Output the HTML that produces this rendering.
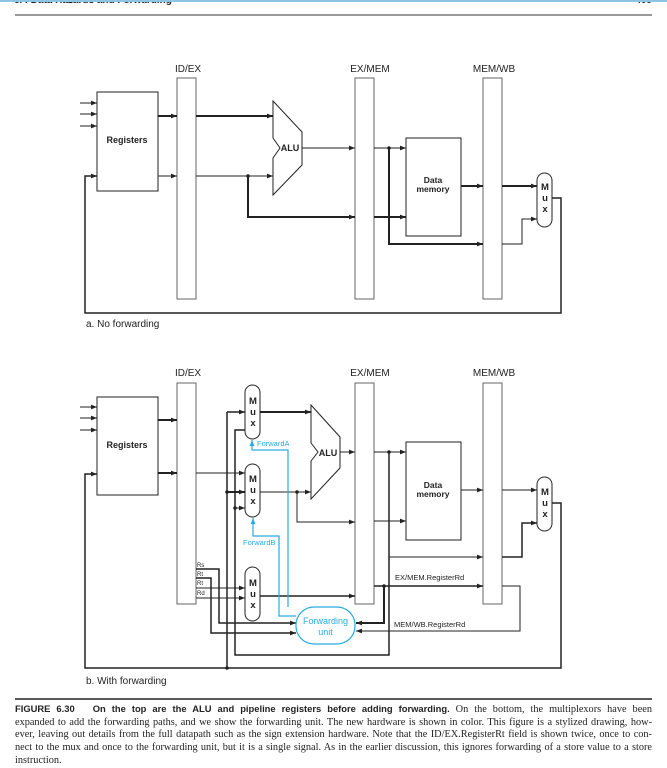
<!DOCTYPE html>
<html><head><meta charset="utf-8"><style>
html,body{margin:0;padding:0;background:#fff;width:667px;height:767px;overflow:hidden}
svg{position:absolute;left:0;top:0}
.cap{position:absolute;left:15px;top:703px;width:637px;font-family:"Liberation Serif",serif;font-size:10.3px;line-height:12.7px;color:#222}
.cap div{text-align:justify;text-align-last:justify;white-space:nowrap;overflow:visible}
.cap div.l{text-align-last:left}
.cap b{font-family:"Liberation Sans",sans-serif;font-size:9.4px}
</style></head><body>
<svg width="667" height="767" viewBox="0 0 667 767" font-family="Liberation Sans, sans-serif">
<defs>
<marker id="a" viewBox="0 0 10 10" refX="10" refY="5" markerWidth="6" markerHeight="6" orient="auto" markerUnits="userSpaceOnUse"><path d="M0,1 L10,5 L0,9z" fill="#222"/></marker>
<marker id="b" viewBox="0 0 10 10" refX="10" refY="5" markerWidth="6" markerHeight="6" orient="auto" markerUnits="userSpaceOnUse"><path d="M0,1 L10,5 L0,9z" fill="#29abe2"/></marker>
</defs>
<text x="14" y="3" font-size="10" font-weight="bold" fill="#222">6.4   Data Hazards and Forwarding</text>
<text x="652" y="3" font-size="10" font-weight="bold" fill="#222" text-anchor="end">409</text>
<rect x="0" y="0" width="667" height="2" fill="#8fc4e6"/>
<line x1="15" y1="15" x2="652" y2="15" stroke="#333" stroke-width="1"/>

<g fill="none" stroke="#222" stroke-width="1">
<rect x="97" y="92" width="61" height="99" fill="#fff"/>
<rect x="177" y="78" width="19" height="221" stroke="#666"/>
<rect x="355" y="78" width="19" height="221" stroke="#666"/>
<rect x="483" y="78" width="19" height="221" stroke="#666"/>
<polygon points="273,101 302,132 302,165 273,195 273,158 280,148 273,138" fill="#fff"/>
<rect x="406" y="138" width="55" height="98" fill="#fff"/>
<rect x="537" y="173" width="15" height="54" rx="7.5" fill="#fff"/>
<line x1="80" y1="103" x2="97" y2="103" marker-end="url(#a)"/>
<line x1="80" y1="114" x2="97" y2="114" marker-end="url(#a)"/>
<line x1="80" y1="126" x2="97" y2="126" marker-end="url(#a)"/>
<line x1="158" y1="116" x2="177" y2="116" stroke-width="2" marker-end="url(#a)"/>
<line x1="158" y1="176" x2="177" y2="176" marker-end="url(#a)"/>
<line x1="196" y1="116" x2="273" y2="116" stroke-width="2" marker-end="url(#a)"/>
<line x1="196" y1="176" x2="273" y2="176" marker-end="url(#a)"/>
<polyline points="248,176 248,217 355,217" stroke-width="2" marker-end="url(#a)"/>
<line x1="302" y1="148" x2="355" y2="148" marker-end="url(#a)"/>
<line x1="374" y1="148" x2="406" y2="148" marker-end="url(#a)"/>
<line x1="374" y1="217" x2="406" y2="217" stroke-width="2" marker-end="url(#a)"/>
<polyline points="389,148 389,244 483,244" stroke-width="2" marker-end="url(#a)"/>
<line x1="461" y1="186" x2="483" y2="186" stroke-width="2" marker-end="url(#a)"/>
<line x1="502" y1="186" x2="537" y2="186" stroke-width="2" marker-end="url(#a)"/>
<polyline points="502,244 522,244 522,219 537,219" marker-end="url(#a)"/>
<polyline points="552,198 561,198 561,313 85,313 85,176 97,176" stroke-width="1.5" marker-end="url(#a)"/>

<rect x="97" y="397" width="61" height="98" fill="#fff"/>
<rect x="177" y="383" width="19" height="221" stroke="#666"/>
<rect x="355" y="383" width="19" height="221" stroke="#666"/>
<rect x="483" y="383" width="19" height="221" stroke="#666"/>
<polygon points="311,405 340,437 340,468 311,499 311,461 318,452 311,443" fill="#fff"/>
<rect x="406" y="442" width="55" height="98" fill="#fff"/>
<rect x="245" y="385" width="15" height="54" rx="7.5" fill="#fff"/>
<rect x="245" y="464" width="15" height="53" rx="7.5" fill="#fff"/>
<rect x="245" y="567" width="15" height="54" rx="7.5" fill="#fff"/>
<rect x="537" y="477" width="15" height="54" rx="7.5" fill="#fff"/>
<line x1="80" y1="407" x2="97" y2="407" marker-end="url(#a)"/>
<line x1="80" y1="418" x2="97" y2="418" marker-end="url(#a)"/>
<line x1="80" y1="430" x2="97" y2="430" marker-end="url(#a)"/>
<line x1="158" y1="420" x2="177" y2="420" stroke-width="2" marker-end="url(#a)"/>
<line x1="158" y1="473" x2="177" y2="473" stroke-width="2" marker-end="url(#a)"/>
<line x1="196" y1="473" x2="245" y2="473" marker-end="url(#a)"/>
<line x1="227" y1="412" x2="227" y2="668" stroke-width="1.5"/>
<line x1="227" y1="412" x2="245" y2="412" stroke-width="1.5" marker-end="url(#a)"/>
<line x1="227" y1="492" x2="245" y2="492" stroke-width="2" marker-end="url(#a)"/>
<polyline points="245,430 235,430 235,655 389,655 389,452" stroke-width="1.5"/>
<line x1="235" y1="508" x2="245" y2="508" marker-end="url(#a)"/>
<line x1="260" y1="412" x2="311" y2="412" stroke-width="2" marker-end="url(#a)"/>
<line x1="260" y1="492" x2="311" y2="492" marker-end="url(#a)"/>
<polyline points="297,492 297,522 355,522" marker-end="url(#a)"/>
<line x1="340" y1="452" x2="355" y2="452" marker-end="url(#a)"/>
<line x1="374" y1="452" x2="406" y2="452" marker-end="url(#a)"/>
<line x1="374" y1="521" x2="406" y2="521" marker-end="url(#a)"/>
<line x1="389" y1="557" x2="483" y2="557" marker-end="url(#a)"/>
<line x1="461" y1="490" x2="483" y2="490" marker-end="url(#a)"/>
<line x1="502" y1="490" x2="537" y2="490" marker-end="url(#a)"/>
<polyline points="502,557 522,557 522,523 537,523" stroke-width="1.5" marker-end="url(#a)"/>
<polyline points="552,503 561,503 561,668 85,668 85,474 97,474" stroke-width="1.5" marker-end="url(#a)"/>
<line x1="260" y1="596" x2="355" y2="596" stroke-width="1.5" marker-end="url(#a)"/>
<line x1="374" y1="586" x2="483" y2="586" stroke-width="1.5" marker-end="url(#a)"/>
<polyline points="384,586 384,623 356,623" stroke-width="2" marker-end="url(#a)"/>
<polyline points="502,586 520,586 520,631 356,631" marker-end="url(#a)"/>
<polyline points="196,569 219,569 219,623 296,623" stroke-width="1.5" marker-end="url(#a)"/>
<polyline points="196,578 211,578 211,633 296,633" stroke-width="1.5" marker-end="url(#a)"/>
<line x1="196" y1="588" x2="245" y2="588" marker-end="url(#a)"/>
<line x1="196" y1="598" x2="245" y2="598" marker-end="url(#a)"/>
</g>
<g fill="#222">
<circle cx="248" cy="176" r="1.8"/><circle cx="389" cy="148" r="1.8"/>
<circle cx="227" cy="492" r="1.8"/><circle cx="235" cy="508" r="1.8"/><circle cx="227" cy="668" r="1.8"/>
<circle cx="297" cy="492" r="1.8"/><circle cx="389" cy="452" r="1.8"/><circle cx="384" cy="586" r="1.8"/>
</g>
<g fill="none" stroke="#29abe2" stroke-width="1.2">
<rect x="296" y="607" width="59" height="37" rx="18" fill="#fff"/>
<polyline points="288,607 288,450 252,450 252,440" marker-end="url(#b)"/>
<polyline points="296,616 279,616 279,536 253,536 253,518" marker-end="url(#b)"/>
</g>
<g font-size="10" fill="#222" text-anchor="middle">
<text x="188" y="72">ID/EX</text><text x="370" y="72">EX/MEM</text><text x="494" y="72">MEM/WB</text>
<text x="188" y="376">ID/EX</text><text x="370" y="376">EX/MEM</text><text x="494" y="376">MEM/WB</text>
</g>
<g font-size="9" font-weight="bold" fill="#222" text-anchor="middle">
<text x="127" y="143">Registers</text><text x="127" y="448">Registers</text>
<text x="290" y="151">ALU</text><text x="328" y="456">ALU</text>
<text x="433" y="183" font-size="8.5">Data</text><text x="433" y="192" font-size="8.5">memory</text>
<text x="433" y="488" font-size="8.5">Data</text><text x="433" y="497" font-size="8.5">memory</text>
<g font-size="9.5">
<text x="545" y="190">M</text><text x="545" y="201">u</text><text x="545" y="212">x</text>
<text x="545" y="495">M</text><text x="545" y="506">u</text><text x="545" y="517">x</text>
<text x="253" y="404">M</text><text x="253" y="415">u</text><text x="253" y="426">x</text>
<text x="253" y="482">M</text><text x="253" y="493">u</text><text x="253" y="504">x</text>
<text x="253" y="586">M</text><text x="253" y="597">u</text><text x="253" y="608">x</text>
</g>
</g>
<g font-size="7.5" fill="#29abe2">
<text x="257" y="446">ForwardA</text><text x="243" y="545">ForwardB</text>
<text x="325.5" y="624" font-size="9" text-anchor="middle">Forwarding</text>
<text x="325.5" y="635" font-size="9" text-anchor="middle">unit</text>
</g>
<g font-size="6" fill="#222">
<text x="197" y="567">Rs</text><text x="197" y="576">Rt</text><text x="197" y="585">Rt</text><text x="197" y="595">Rd</text>
</g>
<g font-size="7.5" fill="#222">
<text x="395" y="580">EX/MEM.RegisterRd</text><text x="394" y="627">MEM/WB.RegisterRd</text>
</g>
<text x="86" y="327" font-size="10" fill="#222">a. No forwarding</text>
<text x="86" y="684" font-size="10" fill="#222">b. With forwarding</text>
<line x1="15" y1="699" x2="652" y2="699" stroke="#222" stroke-width="1.5"/>
</svg>
<div class="cap">
<div><b>FIGURE 6.30&nbsp;&nbsp;&nbsp;On the top are the ALU and pipeline registers before adding forwarding.</b> On the bottom, the multiplexors have been</div>
<div>expanded to add the forwarding paths, and we show the forwarding unit. The new hardware is shown in color. This figure is a stylized drawing, how-</div>
<div>ever, leaving out details from the full datapath such as the sign extension hardware. Note that the ID/EX.RegisterRt field is shown twice, once to con-</div>
<div>nect to the mux and once to the forwarding unit, but it is a single signal. As in the earlier discussion, this ignores forwarding of a store value to a store</div>
<div class="l">instruction.</div>
</div>
</body></html>
